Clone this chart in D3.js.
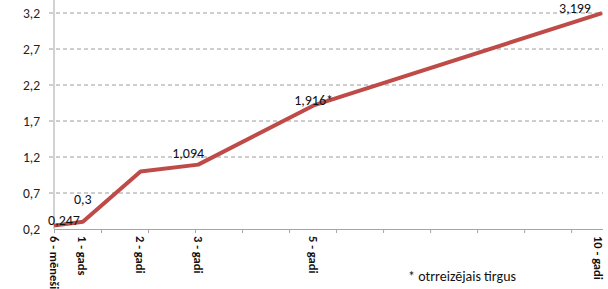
<!DOCTYPE html>
<html lang="lv">
<head>
<meta charset="utf-8">
<style>
  body { margin: 0; background: #fff; }
  svg { font-family: Carlito, Lato, sans-serif; display: block; }
  .grid line { stroke: #9c9c9c; stroke-dasharray: 4 3; }
  .axis path, .axis line { stroke: #a6a6a6; }
  .ytick { font-size: 13.5px; fill: #222; }
  .xtick { font-size: 12.5px; font-weight: bold; fill: #111; }
  .vlabel { font-size: 14px; fill: #111; }
</style>
</head>
<body>
<svg width="608" height="289"></svg>
<script src="https://cdn.jsdelivr.net/npm/d3@7"></script>
<script>
// termiņi (mēnešos) un ienesīgums
var periods = ["6 - mēneši", "1 - gads", "2 - gadi", "3 - gadi", "5 - gadi", "10 - gadi"];
var months = [6, 12, 24, 36, 60, 120];
var values = [0.247, 0.3, 1.0, 1.094, 1.916, 3.199];
var valueLabels = ["0,247", "0,3", null, "1,094", "1,916*", "3,199"];
var yTicks = [0.2, 0.7, 1.2, 1.7, 2.2, 2.7, 3.2];
var footnote = "* otrreizējais tirgus";

// label nudges (px) relative to the point
var nudge = [[10, -6], [0, -23], null, [-10, -12], [0, -5], [-27, -5]];

var svg = d3.select("svg");
var lv = d3.formatLocale({ decimal: ",", thousands: " ", grouping: [3], currency: ["", ""] });
var fmt = lv.format(".1f");

var x = d3.scaleLinear().domain([6, 120]).range([54, 602]);
var y = d3.scaleLinear().domain([0.2, 3.2]).range([229, 13]);

// gridlines
svg.append("g").attr("class", "grid")
  .selectAll("line").data(yTicks.slice(1)).enter().append("line")
    .attr("x1", x(6) - 5).attr("x2", x(120) + 1)
    .attr("y1", d => y(d)).attr("y2", d => y(d));

// y axis
svg.append("line").attr("class", "axis")
  .attr("x1", x(6)).attr("x2", x(6)).attr("y1", 0).attr("y2", y(0.2))
  .attr("stroke", "#a6a6a6");
svg.append("g").selectAll("text").data(yTicks).enter().append("text")
    .attr("class", "ytick")
    .attr("x", 40).attr("y", d => y(d))
    .attr("text-anchor", "end").attr("dy", "0.35em")
    .text(d => fmt(d));

// x axis with ticks every ~10 months
var xAxis = d3.axisBottom(x)
  .tickValues(d3.range(6, 120, 9.78))
  .tickSize(4).tickFormat("");
svg.append("g").attr("class", "axis")
  .attr("transform", "translate(0," + y(0.2) + ")")
  .call(xAxis)
  .call(g => g.select(".domain").attr("d", "M" + x(6) + ",0.5H" + (x(120) + 1)));

svg.append("g").selectAll("text").data(periods).enter().append("text")
    .attr("class", "xtick")
    .attr("transform", (d, i) => "translate(" + Math.min(x(months[i]), 598) + ",236) rotate(90)")
    .attr("dy", "0.35em")
    .text(d => d);

// line
var pts = months.map((m, i) => [m, values[i]]);
svg.append("path").datum(pts)
  .attr("fill", "none")
  .attr("stroke", "#be4b48")
  .attr("stroke-width", 4)
  .attr("stroke-linejoin", "round")
  .attr("d", d3.line().x(d => x(d[0])).y(d => y(d[1])));

// data labels
svg.append("g").selectAll("text").data(pts.filter((d, i) => valueLabels[i])).enter()
  .append("text")
    .attr("class", "vlabel")
    .each(function (d) {
      var i = months.indexOf(d[0]);
      d3.select(this)
        .attr("x", x(d[0]) + nudge[i][0])
        .attr("y", y(d[1]) + nudge[i][1])
        .attr("text-anchor", "middle").attr("dy", "0.35em")
        .text(valueLabels[i]);
    });

svg.append("text").attr("class", "vlabel")
  .attr("x", 408).attr("y", 281)
  .text(footnote);
</script>
</body>
</html>
